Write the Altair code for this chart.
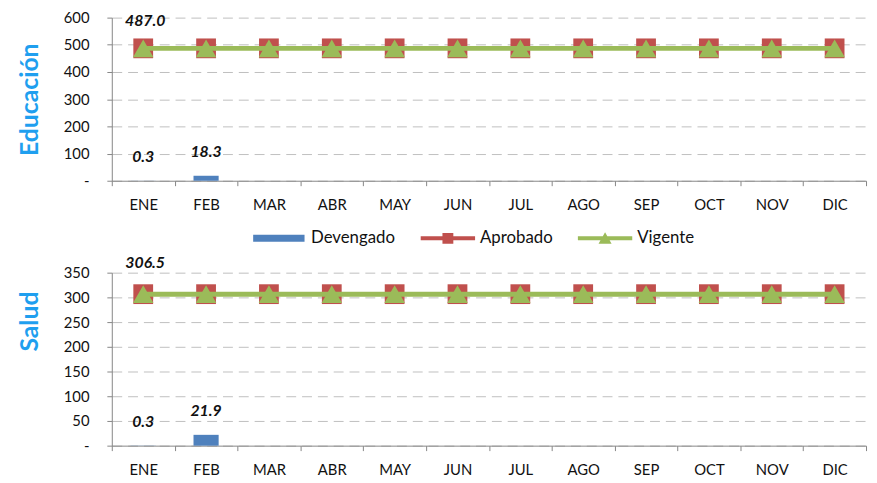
import altair as alt
import pandas as pd

meses = ["ENE", "FEB", "MAR", "ABR", "MAY", "JUN", "JUL", "AGO", "SEP", "OCT", "NOV", "DIC"]

edu_devengado = [0.3, 18.3, None, None, None, None, None, None, None, None, None, None]
edu_aprobado = [487.0, 487.0, 487.0, 487.0, 487.0, 487.0, 487.0, 487.0, 487.0, 487.0, 487.0, 487.0]
edu_vigente = [487.0, 487.0, 487.0, 487.0, 487.0, 487.0, 487.0, 487.0, 487.0, 487.0, 487.0, 487.0]

sal_devengado = [0.3, 21.9, None, None, None, None, None, None, None, None, None, None]
sal_aprobado = [306.5, 306.5, 306.5, 306.5, 306.5, 306.5, 306.5, 306.5, 306.5, 306.5, 306.5, 306.5]
sal_vigente = [306.5, 306.5, 306.5, 306.5, 306.5, 306.5, 306.5, 306.5, 306.5, 306.5, 306.5, 306.5]

series = ["Devengado", "Aprobado", "Vigente"]
colores = ["#4F81BD", "#C0504D", "#9BBB59"]
legend_paths = [
    "M-0.945,-0.127H0.945V0.127H-0.945Z",
    "M-1,-0.073H1V0.073H-1Z M-0.2,-0.2H0.2V0.2H-0.2Z",
    "M-1,-0.073H1V0.073H-1Z M-0.24,0.2L0,-0.22L0.24,0.2Z",
]

FONT = "Lato"
GRAY = "#868686"
TITLE_BLUE = "#1F9FEF"


def panel(dev, apr, vig, titulo, ymax, paso, alto, con_leyenda, apr_dy, title_y=None):
    bars = pd.DataFrame({"mes": meses, "valor": dev})
    lines = pd.DataFrame({
        "mes": meses + meses,
        "valor": apr + vig,
        "serie": ["Aprobado"] * len(meses) + ["Vigente"] * len(meses),
    })
    x = alt.X(
        "mes:N", sort=meses,
        scale=alt.Scale(domain=meses, paddingInner=0, paddingOuter=0),
        axis=alt.Axis(title=None, labelFont=FONT, labelFontSize=15, labelColor="#111111",
                      labelPadding=12, labelAngle=0, domainColor=GRAY, tickColor=GRAY,
                      tickSize=5, tickBand="extent", grid=False),
    )
    axis_kw = dict(title=titulo, values=list(range(0, ymax + 1, paso)),
                   labelExpr="datum.value == 0 ? '-' : datum.label",
                   labelOverlap=False,
                   labelFont=FONT, labelFontSize=15, labelColor="#111111", labelPadding=18,
                   tickSize=5, tickColor=GRAY, domainColor=GRAY,
                   gridColor="#BFBFBF", gridDash=[10, 6], gridWidth=1,
                   titleFont=FONT, titleFontSize=25, titleFontWeight="bold",
                   titleColor=TITLE_BLUE, titlePadding=21)
    if title_y is not None:
        axis_kw["titleY"] = title_y
    y = alt.Y(
        "valor:Q",
        scale=alt.Scale(domain=[0, ymax], nice=False, zero=True),
        axis=alt.Axis(**axis_kw),
    )

    bar = alt.Chart(bars).mark_bar(width=alt.RelativeBandSize(0.4), color=colores[0]).encode(x=x, y=y)
    bar_txt = alt.Chart(bars).transform_filter("isValid(datum.valor)").mark_text(
        dy=-24, font=FONT, fontSize=16, fontWeight="bold", fontStyle="italic", color="#111111"
    ).encode(x=x, y=y, text=alt.Text("valor:Q", format=".1f"))

    base = alt.Chart(lines)
    apr_line = base.transform_filter("datum.serie == 'Aprobado'").mark_line(
        color=colores[1], strokeWidth=3).encode(x=x, y=y)
    apr_pts = base.transform_filter("datum.serie == 'Aprobado'").mark_point(
        shape="square", filled=True, size=400, color=colores[1], opacity=1).encode(x=x, y=y)
    vig_line = base.transform_filter("datum.serie == 'Vigente'").mark_line(
        color=colores[2], strokeWidth=5).encode(x=x, y=y)
    vig_pts = base.transform_filter("datum.serie == 'Vigente'").mark_point(
        shape="triangle-up", filled=True, size=430, color=colores[2], opacity=1).encode(x=x, y=y)
    apr_txt = base.transform_filter("datum.serie == 'Aprobado' && datum.mes == 'ENE'").mark_text(
        dy=apr_dy, dx=2, font=FONT, fontSize=16, fontWeight="bold", fontStyle="italic", color="#111111"
    ).encode(x=x, y=y, text=alt.Text("valor:Q", format=".1f"))

    if con_leyenda:
        leg = alt.Legend(title=None, orient="none", legendX=141.5, legendY=195.5,
                         direction="horizontal", symbolSize=3025, symbolStrokeWidth=0,
                         labelFont=FONT, labelFontSize=17, labelColor="#111111",
                         labelOffset=5, columnPadding=25, symbolOpacity=1, padding=0)
    else:
        leg = None
    legend_layer = base.transform_filter("false").mark_point(filled=True, opacity=1).encode(
        x=x, y=y,
        color=alt.Color("serie:N", scale=alt.Scale(domain=series, range=colores), legend=leg),
        shape=alt.Shape("serie:N", scale=alt.Scale(domain=series, range=legend_paths), legend=leg),
    )

    return alt.layer(bar, apr_line, apr_pts, vig_line, vig_pts, bar_txt, apr_txt, legend_layer).properties(
        width=763, height=alto)


top = panel(edu_devengado, edu_aprobado, edu_vigente, "Educación", 600, 100, 165, True, -28)
bottom = panel(sal_devengado, sal_aprobado, sal_vigente, "Salud", 350, 50, 175, False, -31, title_y=49)

chart = alt.vconcat(top, bottom, spacing=8).resolve_scale(color="independent", shape="independent").resolve_legend(
    color="independent", shape="independent"
).properties(
    padding={"left": 9, "top": 0, "right": 2, "bottom": 0},
    background="white",
).configure_view(stroke=None)

chart.save("out.html", embed_options={"renderer": "svg", "actions": False})
